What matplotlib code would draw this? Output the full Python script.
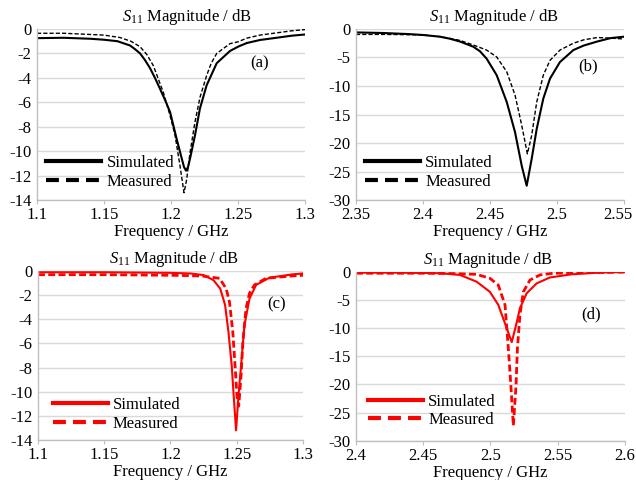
import matplotlib
matplotlib.use('Agg')
import matplotlib.pyplot as plt
from matplotlib.lines import Line2D
from matplotlib.transforms import ScaledTranslation

plt.rcParams['font.family'] = ['Liberation Serif', 'DejaVu Serif']
plt.rcParams['mathtext.fontset'] = 'custom'
plt.rcParams['mathtext.rm'] = 'Liberation Serif'
plt.rcParams['mathtext.it'] = 'Liberation Serif:italic'
plt.rcParams['axes.unicode_minus'] = False

# (a) 1.2 GHz band, black
freq_a_sim = [1.10, 1.12, 1.14, 1.15, 1.16, 1.1694, 1.1731, 1.1769, 1.1806, 1.1843, 1.188, 1.1918,
              1.1955, 1.1993, 1.2042, 1.208, 1.2097, 1.2112, 1.2127, 1.2142, 1.2179, 1.2216, 1.2266,
              1.2341, 1.244, 1.25, 1.2565, 1.2664, 1.28, 1.29, 1.30]
s11_a_sim = [-0.75, -0.72, -0.8, -0.88, -1.0, -1.35, -1.65, -2.0, -2.55, -3.2, -4.0, -4.9,
             -5.8, -6.8, -9.0, -10.6, -11.3, -11.6, -11.3, -10.6, -8.7, -6.5, -4.6,
             -2.8, -1.8, -1.45, -1.15, -0.9, -0.7, -0.55, -0.45]
freq_a_mea = [1.10, 1.12, 1.14, 1.15, 1.1619, 1.17, 1.1769, 1.182, 1.1868, 1.1943, 1.1993, 1.203,
              1.2067, 1.2097, 1.2117, 1.2142, 1.2179, 1.2216, 1.2266, 1.23, 1.2341, 1.244, 1.25,
              1.2565, 1.2664, 1.28, 1.29, 1.30]
s11_a_mea = [-0.35, -0.35, -0.45, -0.5, -0.7, -1.0, -1.45, -2.1, -3.0, -5.2, -7.1, -8.7,
             -11.2, -13.4, -12.3, -10.1, -7.6, -5.6, -3.8, -2.8, -2.0, -1.2, -1.05,
             -0.75, -0.5, -0.3, -0.15, -0.05]

# (b) 2.4 GHz band, black
freq_b_sim = [2.35, 2.37, 2.39, 2.40, 2.4127, 2.42, 2.4276, 2.4375, 2.4425, 2.4475, 2.455, 2.4625,
              2.4687, 2.4737, 2.4774, 2.4811, 2.4849, 2.4898, 2.4948, 2.5022, 2.5122, 2.52, 2.53,
              2.54, 2.55]
s11_b_sim = [-0.6, -0.7, -0.9, -1.05, -1.35, -1.7, -2.2, -3.1, -3.9, -5.2, -8.1, -12.8,
             -18.1, -24.0, -27.5, -22.8, -17.5, -12.2, -8.7, -5.8, -3.7, -2.9, -2.2,
             -1.6, -1.35]
freq_b_mea = [2.35, 2.37, 2.39, 2.40, 2.4127, 2.42, 2.4276, 2.4375, 2.4475, 2.455, 2.4625, 2.4687,
              2.4737, 2.4779, 2.4811, 2.4849, 2.4898, 2.4948, 2.5022, 2.5122, 2.52, 2.53, 2.54, 2.55]
s11_b_mea = [-0.95, -0.95, -1.0, -1.05, -1.35, -1.65, -2.0, -2.8, -3.7, -4.9, -7.5, -11.6,
             -16.9, -21.9, -18.7, -12.8, -8.1, -5.5, -3.7, -2.5, -1.9, -1.5, -1.6, -1.75]

# (c) 1.25 GHz band, red
freq_c_sim = [1.10, 1.15, 1.20, 1.215, 1.2249, 1.2324, 1.2375, 1.2412, 1.2437, 1.2462, 1.2478, 1.2495,
              1.2512, 1.2533, 1.2558, 1.2596, 1.2646, 1.2747, 1.2923, 1.30]
s11_c_sim = [-0.1, -0.1, -0.15, -0.2, -0.33, -0.75, -1.45, -2.8, -5.0, -7.8, -10.5, -13.2,
             -10.5, -7.8, -4.5, -2.3, -1.15, -0.55, -0.27, -0.2]
freq_c_mea = [1.10, 1.15, 1.20, 1.215, 1.2244, 1.237, 1.242, 1.2445, 1.247, 1.2487, 1.2503, 1.2515,
              1.2533, 1.2546, 1.257, 1.2596, 1.2634, 1.2721, 1.2923, 1.30]
s11_c_mea = [-0.3, -0.3, -0.35, -0.38, -0.42, -0.6, -1.45, -2.55, -5.0, -7.8, -10.5, -11.2,
             -8.6, -5.9, -3.1, -1.85, -1.15, -0.6, -0.4, -0.35]

# (d) 2.5 GHz band, red
freq_d_sim = [2.40, 2.43, 2.45, 2.4625, 2.4773, 2.4897, 2.4996, 2.5058, 2.5108, 2.5158, 2.519, 2.5219,
              2.5269, 2.5343, 2.5442, 2.56, 2.58, 2.60]
s11_d_sim = [-0.2, -0.2, -0.25, -0.3, -0.6, -1.8, -3.6, -5.9, -9.2, -12.5, -9.5, -6.5,
             -3.85, -2.1, -1.05, -0.5, -0.2, -0.05]
freq_d_mea = [2.40, 2.43, 2.45, 2.47, 2.4897, 2.4996, 2.5058, 2.5108, 2.5133, 2.515, 2.517, 2.519,
              2.52, 2.5219, 2.5244, 2.5294, 2.5368, 2.5467, 2.57, 2.60]
s11_d_mea = [-0.3, -0.3, -0.3, -0.35, -0.5, -1.2, -2.4, -5.9, -13.7, -19.6, -27.3, -20.1,
             -13.7, -7.7, -3.6, -1.5, -0.6, -0.3, -0.2, -0.1]

xticks_a = [1.1, 1.15, 1.2, 1.25, 1.3]
xlabels_a = ['1.1', '1.15', '1.2', '1.25', '1.3']
xticks_b = [2.35, 2.4, 2.45, 2.5, 2.55]
xlabels_b = ['2.35', '2.4', '2.45', '2.5', '2.55']
xticks_d = [2.4, 2.45, 2.5, 2.55, 2.6]
xlabels_d = ['2.4', '2.45', '2.5', '2.55', '2.6']
yticks_14 = [0, -2, -4, -6, -8, -10, -12, -14]
yticks_30 = [0, -5, -10, -15, -20, -25, -30]


def s11_panel(ax, f_sim, v_sim, f_mea, v_mea, xticks, xlabels, yticks, color, tag, tag_pos,
              title_x=0.5, dash_lw=1.0, dash=(3, 1.5), leg_pos=(0.035, 0.06)):
    ax.plot(f_sim, v_sim, color=color, lw=1.5, solid_joinstyle='round')
    ax.plot(f_mea, v_mea, color=color, lw=dash_lw, linestyle=(0, dash))
    ax.set_xlim(xticks[0], xticks[-1])
    ax.set_ylim(yticks[-1], yticks[0])
    ax.set_xticks(xticks)
    ax.set_xticklabels(xlabels)
    ax.set_yticks(yticks)
    ax.set_yticklabels([str(v) for v in yticks])
    ax.tick_params(axis='x', length=3, color='#bfbfbf', labelsize=12, pad=2)
    ax.tick_params(axis='y', length=0, labelsize=12, pad=4)
    ax.grid(axis='y', color='#d9d9d9', lw=1.0)
    ax.set_axisbelow(True)
    for s in ['top', 'right']:
        ax.spines[s].set_visible(False)
    for s in ['left', 'bottom']:
        ax.spines[s].set_color('#bfbfbf')
        ax.spines[s].set_linewidth(1.0)
    ax.text(title_x, 1.07, r'$S_{\mathrm{11}}$ Magnitude / dB', transform=ax.transAxes,
            ha='center', va='center', fontsize=12)
    ax.set_xlabel('Frequency / GHz', fontsize=12, labelpad=1)
    ax.text(tag_pos[0], tag_pos[1], tag, transform=ax.transAxes, ha='center', va='center', fontsize=12)
    handles = [Line2D([], [], color=color, lw=3),
               Line2D([], [], color=color, lw=3, linestyle=(0, (3.1, 1.7)))]
    ax.legend(handles, ['Simulated', 'Measured'], loc='lower left', bbox_to_anchor=leg_pos,
              frameon=False, fontsize=12, handlelength=3.3, handletextpad=0.3,
              labelspacing=0.15, borderpad=0, borderaxespad=0)


fig = plt.figure(figsize=(6.36, 4.8), dpi=100)
ax_a = fig.add_axes([0.0582, 0.5833, 0.4214, 0.3563])
ax_b = fig.add_axes([0.5597, 0.5833, 0.4214, 0.3563])
ax_c = fig.add_axes([0.0597, 0.0833, 0.4167, 0.352])
ax_d = fig.add_axes([0.5597, 0.0813, 0.4230, 0.353])

s11_panel(ax_a, freq_a_sim, s11_a_sim, freq_a_mea, s11_a_mea, xticks_a, xlabels_a, yticks_14,
          'black', '(a)', (0.83, 0.80), title_x=0.56)
s11_panel(ax_b, freq_b_sim, s11_b_sim, freq_b_mea, s11_b_mea, xticks_b, xlabels_b, yticks_30,
          'black', '(b)', (0.866, 0.78), title_x=0.515)
s11_panel(ax_c, freq_c_sim, s11_c_sim, freq_c_mea, s11_c_mea, xticks_a, xlabels_a, yticks_14,
          'red', '(c)', (0.90, 0.80), title_x=0.513, dash_lw=2.0, dash=(2.5, 1.2), leg_pos=(0.055, 0.05))
s11_panel(ax_d, freq_d_sim, s11_d_sim, freq_d_mea, s11_d_mea, xticks_d, xlabels_d, yticks_30,
          'red', '(d)', (0.874, 0.75), title_x=0.49, dash_lw=2.0, dash=(2.5, 1.2), leg_pos=(0.045, 0.075))

# last label of (b) sits inside the figure edge, as in the source
last = ax_b.get_xticklabels()[-1]
last.set_horizontalalignment('right')
last.set_transform(last.get_transform() + ScaledTranslation(0.09, 0, fig.dpi_scale_trans))

fig.savefig('out.png', dpi=100)
